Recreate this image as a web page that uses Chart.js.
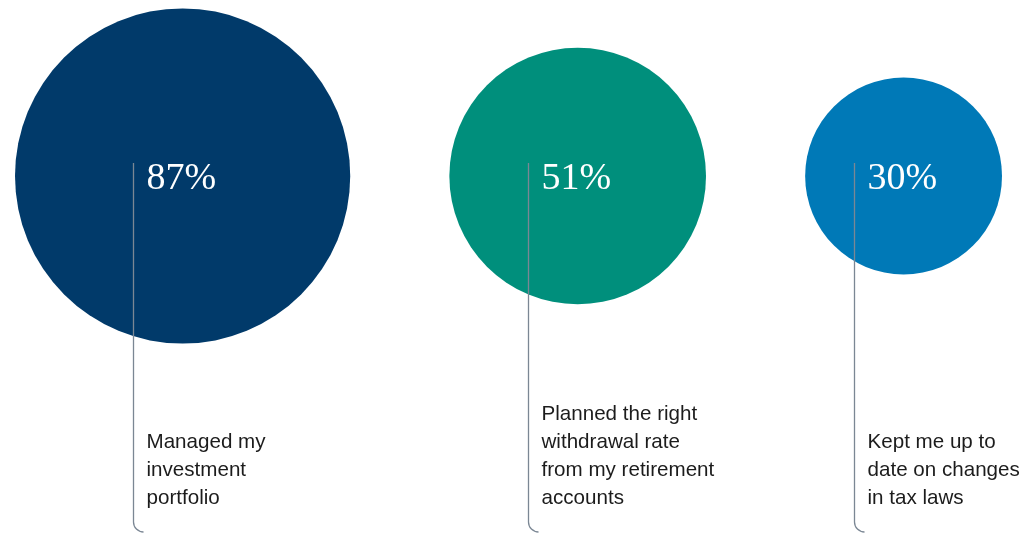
<!DOCTYPE html>
<html>
<head>
<meta charset="utf-8">
<script src="https://cdn.jsdelivr.net/npm/chart.js@4/dist/chart.umd.min.js"></script>
<style>
  html, body { margin: 0; padding: 0; background: #ffffff; }
  #wrap { position: relative; width: 1036px; height: 533px; }
</style>
</head>
<body>
<div id="wrap"><canvas id="chart"></canvas></div>
<script>
// Share of respondents who said their advisor...
const categories = [
  "Managed my investment portfolio",
  "Planned the right withdrawal rate from my retirement accounts",
  "Kept me up to date on changes in tax laws"
];
const labelLines = [
  ["Managed my", "investment", "portfolio"],
  ["Planned the right", "withdrawal rate", "from my retirement", "accounts"],
  ["Kept me up to", "date on changes", "in tax laws"]
];
const values = [87, 51, 30];
const valueLabels = ["87%", "51%", "30%"];
const bubbleColors = ["#013a6a", "#008f7c", "#0079b7"];

// Layout: bubble area is proportional to the value; bubbles sit in one row
const W = 1036, H = 533;
const SCALE = 17.97;          // px of radius per sqrt(percent)
const ROW_Y = 176;
const LEFT = 15, RIGHT = 1002;
const radii = values.map(v => SCALE * Math.sqrt(v));
const gap = (RIGHT - LEFT - 2 * radii.reduce((a, b) => a + b, 0)) / (values.length - 1);
const centers = [];
radii.reduce((edge, r) => { centers.push(edge + r); return edge + 2 * r + gap; }, LEFT);

const points = values.map((v, i) => ({ x: centers[i], y: ROW_Y, r: radii[i] }));

// Callout lines, percentages and captions drawn over the bubbles
const calloutPlugin = {
  id: 'callouts',
  afterDatasetsDraw(chart) {
    const ctx = chart.ctx;
    const meta = chart.getDatasetMeta(0);
    meta.data.forEach((el, i) => {
      const cx = el.x, cy = el.y;
      const lx = Math.round(cx - 49.5) + 0.5;
      const bottom = H - 1;
      const cr = 10;
      ctx.save();
      ctx.strokeStyle = '#7b8794';
      ctx.lineWidth = 1.3;
      ctx.beginPath();
      ctx.moveTo(lx, cy - 13);
      ctx.lineTo(lx, bottom - cr);
      ctx.arcTo(lx, bottom, lx + cr, bottom, cr);
      ctx.stroke();

      ctx.fillStyle = '#ffffff';
      ctx.font = '38px "Liberation Serif", "Times New Roman", serif';
      ctx.textAlign = 'left';
      ctx.textBaseline = 'alphabetic';
      ctx.fillText(valueLabels[i], lx + 13, cy + 13);

      ctx.fillStyle = '#1c1c1c';
      ctx.font = '20.6px "Liberation Sans", Arial, sans-serif';
      const lines = labelLines[i];
      const lastBase = 504, lh = 28;
      lines.forEach((t, k) => {
        ctx.fillText(t, lx + 13, lastBase - (lines.length - 1 - k) * lh);
      });
      ctx.restore();
    });
  }
};

new Chart(document.getElementById('chart'), {
  type: 'bubble',
  data: {
    labels: categories,
    datasets: [{
      label: 'Share of respondents',
      data: points,
      backgroundColor: bubbleColors,
      borderWidth: 0,
      hoverBorderWidth: 0,
      hoverRadius: 0,
      clip: false
    }]
  },
  options: {
    responsive: true,
    maintainAspectRatio: false,
    animation: false,
    events: [],
    layout: { padding: 0, autoPadding: false },
    scales: {
      x: { type: 'linear', min: 0, max: W, display: false },
      y: { type: 'linear', min: 0, max: H, reverse: true, display: false }
    },
    plugins: {
      legend: { display: false },
      tooltip: { enabled: false }
    }
  },
  plugins: [calloutPlugin]
});
</script>
</body>
</html>
